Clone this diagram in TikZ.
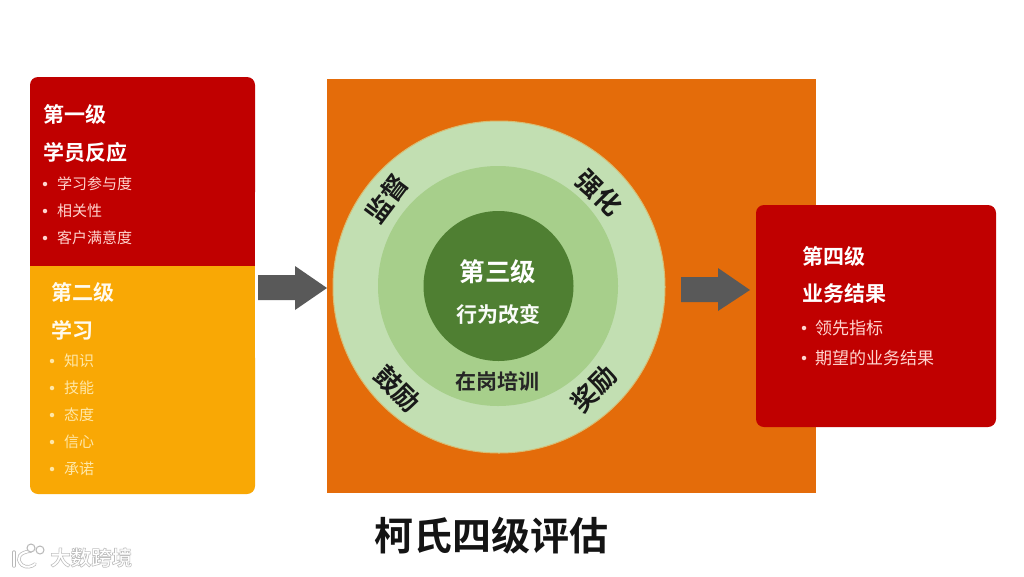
\documentclass[tikz,border=0pt]{standalone}
\usepackage{fontspec}
\setmainfont{Noto Sans CJK SC}
\newfontfamily\cjkb{Noto Sans CJK SC Bold}
\newcommand{\outl}{\special{pdf:code 1 Tr 0.6 w 0.75 0.75 0.75 RG}}
\definecolor{redbox}{HTML}{C00000}
\definecolor{ambox}{HTML}{F9A805}
\definecolor{orbox}{HTML}{E46C0A}
\definecolor{ringa}{HTML}{C2DFB2}
\definecolor{ringb}{HTML}{A7CF8B}
\definecolor{ringc}{HTML}{4F7F32}
\definecolor{arrowgray}{HTML}{595959}
\definecolor{redtxt}{HTML}{FFD5CF}
\definecolor{amtxt}{HTML}{FFE7A8}
\tikzset{
  x=1pt,y=-1pt,
  head/.style={font=\fontsize{#1}{#1}\selectfont\cjkb,inner sep=0pt,text=white},
  headl/.style={head=21,anchor=west},
  bul/.style={font=\fontsize{#1}{#1}\selectfont,inner sep=0pt,anchor=west},
  dotb/.style={circle,inner sep=0pt,minimum size=4.5pt},
  ringlab/.style={font=\fontsize{26}{26}\selectfont\cjkb,inner sep=0pt,text=black!90},
  blockarrow/.style={fill=arrowgray,draw=none},
}
\begin{document}
\begin{tikzpicture}
\useasboundingbox (0,0) rectangle (1024,576);
\fill[white] (0,0) rectangle (1024,576);
% centre panel
\fill[orbox] (327,79) rectangle (816,493);
\node[circle,fill=ringa,draw=orange!35!ringa,line width=1pt,minimum size=332pt,inner sep=0pt] (c1) at (499,287) {};
\node[circle,fill=ringb,minimum size=240pt,inner sep=0pt] (c2) at (498,286) {};
\node[circle,fill=ringc,minimum size=150pt,inner sep=0pt] (c3) at (498.5,286) {};
\node[head=25.5] (t3a) at (498,272) {第三级};
\node[head=21,text=white!92!ringa] (t3b) at (498,314) {行为改变};
\node[head=21,text=black!85] (t3c) at (497,381) {在岗培训};
\node[ringlab,rotate=53] (r1) at (387,199) {监督};
\node[ringlab,rotate=-45] (r2) at (599,193) {强化};
\node[ringlab,rotate=-45] (r3) at (397.5,389) {鼓励};
\node[ringlab,rotate=45] (r4) at (594,389) {奖励};
% left box
\fill[redbox,rounded corners=8pt] (30,200) -- (30,77) -- (255,77) -- (255,200) -- cycle;
\fill[redbox] (30,190) rectangle (255,266);
\fill[ambox,rounded corners=8pt] (30,350) -- (30,494) -- (255,494) -- (255,350) -- cycle;
\fill[ambox] (30,266) rectangle (255,360);
\node[headl] (a1) at (43,114) {第一级};
\node[headl] (a2) at (43,152) {学员反应};
\foreach \n/\y/\t in {a3/184/学习参与度,a4/211/相关性,a5/238/客户满意度}{
  \node[dotb,fill=redtxt] (\n d) at (45,\y) {};
  \node[bul=15,text=redtxt] (\n) at (57,\y) {\t};
}
\node[headl,text=white!80!amtxt] (b1) at (51,292) {第二级};
\node[headl,text=white!80!amtxt] (b2) at (51,330) {学习};
\foreach \n/\y/\t in {b3/361/知识,b4/388/技能,b5/415/态度,b6/442/信心,b7/469/承诺}{
  \node[dotb,fill=amtxt] (\n d) at (52,\y) {};
  \node[bul=15,text=amtxt] (\n) at (64,\y) {\t};
}
% right box
\node[fill=redbox,rounded corners=8pt,minimum width=240pt,minimum height=222pt,inner sep=0pt] (rb) at (876,316) {};
\node[headl] (d1) at (802,256) {第四级};
\node[headl] (d2) at (802,294) {业务结果};
\node[dotb,fill=redtxt] (d3d) at (804,328) {};
\node[bul=17,text=redtxt] (d3) at (815,328) {领先指标};
\node[dotb,fill=redtxt] (d4d) at (804,358) {};
\node[bul=17,text=redtxt] (d4) at (815,358) {期望的业务结果};
% block arrows
\fill[blockarrow] (258,275) -- (295,275) -- (295,266) -- (327,288) -- (295,310) -- (295,300) -- (258,300) -- cycle;
\fill[blockarrow] (681,277) -- (718,277) -- (718,268) -- (750,290) -- (718,311) -- (718,302) -- (681,302) -- cycle;
% title
\node[font=\fontsize{39}{39}\selectfont\cjkb,inner sep=0pt,text=black!92] (title) at (491.5,536) {柯氏四级评估};
% watermark
\draw[white!72!black,line width=3.4pt,line cap=round] (14,552) -- (14,566);
\draw[white,line width=2pt,line cap=round] (14,552) -- (14,566);
\draw[white!72!black,line width=3.4pt,line cap=round] (31,551) .. controls (20,552) and (15,558) .. (22,565) .. controls (26,568) and (32,567) .. (35,564);
\draw[white,line width=2pt,line cap=round] (31,551) .. controls (20,552) and (15,558) .. (22,565) .. controls (26,568) and (32,567) .. (35,564);
\draw[white!72!black,fill=white,line width=1pt] (31,548) circle[radius=4];
\draw[white!72!black,fill=white,line width=1pt] (40,550) circle[radius=4];
\node[font=\fontsize{20.5}{20.5}\selectfont\cjkb,inner sep=0pt,anchor=west,text=white] (wm) at (50,557.5) {\outl 大数跨境};
\end{tikzpicture}
\end{document}
